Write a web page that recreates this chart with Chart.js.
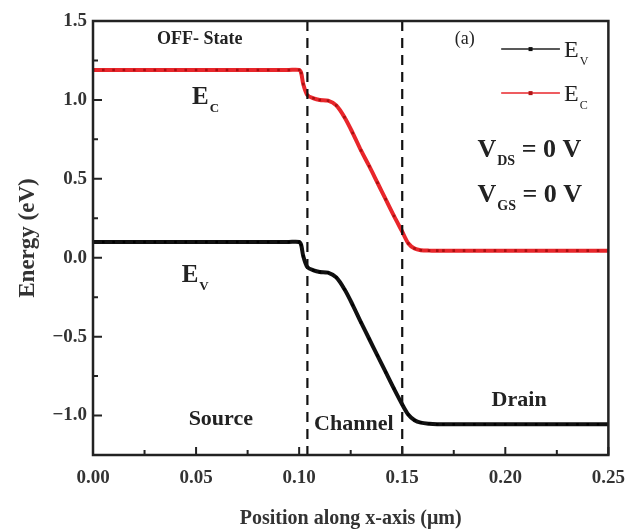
<!DOCTYPE html>
<html>
<head>
<meta charset="utf-8">
<script src="https://cdn.jsdelivr.net/npm/chart.js@4.4.1/dist/chart.umd.min.js"></script>
<style>
  body { margin: 0; background: #fff; }
  #chart { display: block; }
</style>
</head>
<body>
<canvas id="chart" width="637" height="531"></canvas>
<script>
// position along x (um)
const xPos = [0, 0.005, 0.01, 0.015, 0.02, 0.025, 0.03, 0.035, 0.04, 0.045, 0.05,
  0.055, 0.06, 0.065, 0.07, 0.075, 0.08, 0.085, 0.09, 0.095, 0.1,
  0.101, 0.102, 0.104, 0.107, 0.11, 0.114, 0.118, 0.122, 0.126, 0.13,
  0.134, 0.138, 0.142, 0.146, 0.15, 0.153, 0.156, 0.159, 0.163,
  0.167, 0.17, 0.175, 0.18, 0.185, 0.19, 0.195, 0.2, 0.205, 0.21,
  0.215, 0.22, 0.225, 0.23, 0.235, 0.24, 0.245, 0.25];

const ecValues = [1.19, 1.19, 1.19, 1.19, 1.19, 1.19, 1.19, 1.19, 1.19, 1.19, 1.19,
  1.19, 1.19, 1.19, 1.19, 1.19, 1.19, 1.19, 1.19, 1.19, 1.19,
  1.17, 1.10, 1.03, 1.01, 1.0, 0.995, 0.965, 0.89, 0.79, 0.68,
  0.58, 0.475, 0.37, 0.265, 0.165, 0.09, 0.058, 0.048, 0.045,
  0.045, 0.045, 0.045, 0.045, 0.045, 0.045, 0.045, 0.045, 0.045, 0.045,
  0.045, 0.045, 0.045, 0.045, 0.045, 0.045, 0.045, 0.045];

const evValues = [0.10, 0.10, 0.10, 0.10, 0.10, 0.10, 0.10, 0.10, 0.10, 0.10, 0.10,
  0.10, 0.10, 0.10, 0.10, 0.10, 0.10, 0.10, 0.10, 0.10, 0.10,
  0.08, 0.01, -0.06, -0.08, -0.09, -0.095, -0.125, -0.20, -0.30, -0.41,
  -0.515, -0.62, -0.725, -0.83, -0.93, -0.995, -1.03, -1.045, -1.052,
  -1.055, -1.055, -1.055, -1.055, -1.055, -1.055, -1.055, -1.055, -1.055, -1.055,
  -1.055, -1.055, -1.055, -1.055, -1.055, -1.055, -1.055, -1.055];

const xTicks = [0, 0.05, 0.10, 0.15, 0.20, 0.25];
const yTicks = [-1.0, -0.5, 0, 0.5, 1.0, 1.5];
const dividers = [0.104, 0.15];   // source/channel/drain boundaries

const serif = "'Liberation Serif', 'Times New Roman', serif";
const RED = '#e8262b';

function toPts(ys) {
  return xPos.map((x, i) => ({ x: x, y: ys[i] }));
}

function subText(ctx, x, y, main, sub, size, bold, after) {
  const w = bold ? 'bold ' : '';
  ctx.font = w + size + 'px ' + serif;
  ctx.fillText(main, x, y);
  let cx = x + ctx.measureText(main).width;
  const s = Math.round(size * 0.52);
  ctx.font = w + s + 'px ' + serif;
  ctx.fillText(sub, cx + 1, y + size * 0.32);
  cx += ctx.measureText(sub).width + 1;
  if (after) {
    ctx.font = w + size + 'px ' + serif;
    ctx.fillText(after, cx, y);
  }
}

// frame, inward ticks, dashed region lines, text and legend
const decor = {
  id: 'decor',
  afterDatasetsDraw(chart) {
    const ctx = chart.ctx;
    const a = chart.chartArea;
    const xs = chart.scales.x, ys = chart.scales.y;
    ctx.save();

    // dashed boundaries
    ctx.strokeStyle = '#111';
    ctx.lineWidth = 2.2;
    ctx.setLineDash([10, 7]);
    dividers.forEach(d => {
      const px = xs.getPixelForValue(d);
      ctx.beginPath();
      ctx.moveTo(px, a.top);
      ctx.lineTo(px, a.bottom);
      ctx.stroke();
    });
    ctx.setLineDash([]);

    // frame
    ctx.strokeStyle = '#222';
    ctx.lineWidth = 2.5;
    ctx.strokeRect(a.left, a.top, a.right - a.left, a.bottom - a.top);

    // ticks pointing in
    ctx.lineWidth = 2;
    ctx.beginPath();
    for (let v = 0; v <= 0.2501; v += 0.025) {
      const px = xs.getPixelForValue(v);
      const major = Math.abs(v / 0.05 - Math.round(v / 0.05)) < 1e-6;
      ctx.moveTo(px, a.bottom);
      ctx.lineTo(px, a.bottom - (major ? 8 : 5));
    }
    for (let v = -1.25; v <= 1.5001; v += 0.25) {
      const py = ys.getPixelForValue(v);
      const major = Math.abs(v / 0.5 - Math.round(v / 0.5)) < 1e-6;
      ctx.moveTo(a.left, py);
      ctx.lineTo(a.left + (major ? 9 : 5), py);
    }
    ctx.stroke();

    const X = v => xs.getPixelForValue(v);
    const Y = v => ys.getPixelForValue(v);
    ctx.fillStyle = '#222';
    ctx.textBaseline = 'alphabetic';
    ctx.textAlign = 'left';

    ctx.font = 'bold 18px ' + serif;
    ctx.fillText('OFF- State', X(0.031), Y(1.355));

    subText(ctx, X(0.048), Y(0.975), 'E', 'C', 25, true);
    subText(ctx, X(0.043), Y(-0.155), 'E', 'V', 25, true);

    ctx.font = 'bold 22px ' + serif;
    ctx.textAlign = 'center';
    ctx.fillText('Source', X(0.062), Y(-1.06));
    ctx.fillText('Channel', X(0.1265), Y(-1.09));
    ctx.fillText('Drain', X(0.2067), Y(-0.94));
    ctx.textAlign = 'left';

    ctx.font = '18px ' + serif;
    ctx.fillText('(a)', X(0.1755), Y(1.355));

    // legend
    const legend = [['V', '#222', '#111'], ['C', RED, '#b01515']];
    legend.forEach((l, i) => {
      const ly = Y(i === 0 ? 1.322 : 1.043);
      ctx.strokeStyle = l[1];
      ctx.lineWidth = 1.5;
      ctx.beginPath();
      ctx.moveTo(X(0.198), ly);
      ctx.lineTo(X(0.2265), ly);
      ctx.stroke();
      ctx.fillStyle = l[2];
      ctx.fillRect((X(0.198) + X(0.2265)) / 2 - 2, ly - 2, 4, 4);
      ctx.fillStyle = '#222';
      subText(ctx, X(0.2285), ly + 8, 'E', l[0], 24, false);
    });

    subText(ctx, X(0.1865), Y(0.64), 'V', 'DS', 26, true, ' = 0 V');
    subText(ctx, X(0.1865), Y(0.355), 'V', 'GS', 26, true, ' = 0 V');

    ctx.restore();
  }
};

const ctx = document.getElementById('chart');
const myChart = new Chart(ctx, {
  type: 'line',
  data: {
    datasets: [{
      label: 'Ev',
      data: toPts(evValues),
      borderColor: '#111',
      borderWidth: 4,
      pointStyle: 'rect',
      pointRadius: 1.8,
      pointBackgroundColor: '#000',
      pointBorderWidth: 0,
      tension: 0.3
    }, {
      label: 'Ec',
      data: toPts(ecValues),
      borderColor: RED,
      borderWidth: 4,
      pointStyle: 'rect',
      pointRadius: 1.8,
      pointBackgroundColor: '#a81010',
      pointBorderWidth: 0,
      tension: 0.3
    }]
  },
  options: {
    responsive: false,
    animation: false,
    layout: { padding: { top: 21, right: 23, left: 0, bottom: 0 } },
    plugins: { legend: { display: false }, tooltip: { enabled: false } },
    scales: {
      x: {
        type: 'linear',
        min: 0,
        max: 0.25,
        afterBuildTicks: s => { s.ticks = xTicks.map(v => ({ value: v })); },
        afterFit: s => { s.height = 76; },
        grid: { display: false, drawTicks: false },
        border: { display: false },
        ticks: {
          padding: 12,
          color: '#333',
          font: { family: serif, size: 19, weight: 'bold' },
          callback: v => v.toFixed(2)
        },
        title: {
          display: true,
          text: 'Position along x-axis (\u03bcm)',
          color: '#333',
          padding: { top: 10, bottom: 0 },
          font: { family: serif, size: 20, weight: 'bold' }
        }
      },
      y: {
        min: -1.25,
        max: 1.5,
        afterBuildTicks: s => { s.ticks = yTicks.map(v => ({ value: v })); },
        afterFit: s => { s.width = 93; },
        grid: { display: false, drawTicks: false },
        border: { display: false },
        ticks: {
          padding: 6,
          color: '#333',
          font: { family: serif, size: 19, weight: 'bold' },
          callback: v => v.toFixed(1).replace('-', '\u2212')
        },
        title: {
          display: true,
          text: 'Energy (eV)',
          color: '#333',
          padding: { top: 14, bottom: 0 },
          font: { family: serif, size: 23, weight: 'bold' }
        }
      }
    }
  },
  plugins: [decor]
});
</script>
</body>
</html>
